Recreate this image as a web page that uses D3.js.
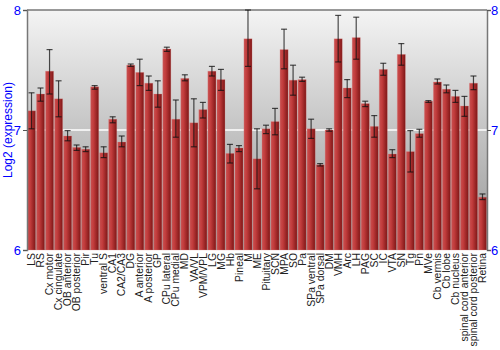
<!DOCTYPE html>
<html>
<head>
<meta charset="utf-8">
<script src="https://cdn.jsdelivr.net/npm/d3@7"></script>
<style>
  body { margin: 0; background: #fff; }
  svg { display: block; font-family: "Liberation Sans", Arial, sans-serif; }
</style>
</head>
<body>
<div id="chart"></div>
<script>
const regions = ["LS","RS","Cx motor","Cx cingulate","OB anterior","OB posterior","Pir","Tu","ventral S","CA1","CA2/CA3","DG","A anterior","A posterior","GP","CPu lateral","CPu medial","MD","VA/VL","VPM/VPL","LG","MG","Hb","Pineal","M","ME","Pituitary","SCN","MPA","SO","Pa","SPa ventral","SPa dorsal","DM","VMH","Arc","LH","PAG","SC","IC","VTA","SN","Tg","Pn","MVe","Cb vermis","Cb lobe","Cb nucleus","spinal cord anterior","spinal cord posterior","Retina"];
const expression = [7.16,7.30,7.49,7.26,6.95,6.855,6.84,7.36,6.81,7.09,6.90,7.54,7.48,7.39,7.30,7.675,7.09,7.43,7.06,7.17,7.49,7.42,6.805,6.85,7.76,6.76,7.01,7.07,7.67,7.415,7.42,7.01,6.71,7.00,7.76,7.35,7.77,7.22,7.03,7.505,6.80,7.63,6.82,6.97,7.24,7.40,7.34,7.28,7.20,7.39,6.44];
const errHigh = [7.31,7.35,7.67,7.41,6.995,6.875,6.86,7.37,6.86,7.11,6.95,7.55,7.59,7.45,7.41,7.69,7.25,7.46,7.26,7.23,7.53,7.505,6.88,6.87,8.0,7.01,7.04,7.18,7.84,7.54,7.44,7.09,6.72,7.01,7.955,7.42,7.94,7.24,7.12,7.556,6.836,7.72,6.995,7.006,7.245,7.425,7.375,7.33,7.28,7.45,6.467];
const errLow = [7.01,7.24,7.30,7.11,6.91,6.83,6.82,7.34,6.77,7.06,6.86,7.53,7.37,7.33,7.19,7.655,6.94,7.41,6.86,7.10,7.45,7.33,6.725,6.82,7.53,6.51,6.97,6.96,7.51,7.29,7.405,6.93,6.70,6.99,7.567,7.27,7.59,7.195,6.94,7.456,6.77,7.54,6.65,6.94,7.23,7.383,7.31,7.23,7.114,7.336,6.42];
const yTicks = [6, 7, 8];

const W = 500, H = 350;
const m = {t:10, l:27, b:100, r:13};
const w = W - m.l - m.r;
const h = H - m.t - m.b;

const svg = d3.select("#chart").append("svg")
  .attr("width", W).attr("height", H);

const defs = svg.append("defs");
const bg = defs.append("linearGradient").attr("id","bg")
  .attr("x1",0).attr("y1",0).attr("x2",0).attr("y2",1);
bg.append("stop").attr("offset","0%").attr("stop-color","#f4f4f4");
bg.append("stop").attr("offset","50%").attr("stop-color","#c4c4c4");
bg.append("stop").attr("offset","100%").attr("stop-color","#989898");

const barGrad = defs.append("linearGradient").attr("id","bar")
  .attr("x1",0).attr("y1",0).attr("x2",1).attr("y2",0);
barGrad.append("stop").attr("offset","0%").attr("stop-color","#c85050");
barGrad.append("stop").attr("offset","35%").attr("stop-color","#c23c3c");
barGrad.append("stop").attr("offset","100%").attr("stop-color","#7e1616");

const x = d3.scaleBand().domain(regions).range([0, w]).paddingInner(0.1).paddingOuter(0.05);
const y = d3.scaleLinear().domain([6, 8]).range([h, 0]);

const plot = svg.append("g").attr("transform", `translate(${m.l},${m.t})`);

plot.append("rect").attr("width", w).attr("height", h).attr("fill", "url(#bg)");

plot.selectAll(".grid").data([7]).join("line")
  .attr("class","grid")
  .attr("x1", 0).attr("x2", w)
  .attr("y1", d => y(d)).attr("y2", d => y(d))
  .attr("stroke", "#fff").attr("stroke-width", 1.5);

plot.append("line").attr("x1",0).attr("x2",w).attr("y1",0).attr("y2",0)
  .attr("stroke","#777").attr("stroke-width",1.5);

const data = regions.map((r, i) => ({r, v: expression[i], hi: errHigh[i], lo: errLow[i]}));

plot.selectAll(".bar").data(data).join("rect")
  .attr("class","bar")
  .attr("x", d => x(d.r))
  .attr("width", x.bandwidth())
  .attr("y", d => y(d.v))
  .attr("height", d => h - y(d.v))
  .attr("fill", "url(#bar)")
  .attr("stroke", "#e08a8a").attr("stroke-opacity", 0.35).attr("stroke-width", 0.8);

const eb = plot.selectAll(".err").data(data).join("g").attr("class","err")
  .attr("stroke", "#111").attr("stroke-opacity", 0.75).attr("stroke-width", 1.2);
eb.append("line")
  .attr("x1", d => x(d.r) + x.bandwidth()/2).attr("x2", d => x(d.r) + x.bandwidth()/2)
  .attr("y1", d => y(d.hi)).attr("y2", d => y(d.lo));
eb.selectAll(".cap").data(d => [d.hi, d.lo].map(v => ({r: d.r, v}))).join("line")
  .attr("x1", d => x(d.r) + x.bandwidth()/2 - 3).attr("x2", d => x(d.r) + x.bandwidth()/2 + 3)
  .attr("y1", d => y(d.v)).attr("y2", d => y(d.v));

const axisL = d3.axisLeft(y).tickValues(yTicks).tickFormat(d3.format("d")).tickSize(4);
const axisR = d3.axisRight(y).tickValues(yTicks).tickFormat(d3.format("d")).tickSize(4);

const gl = plot.append("g").call(axisL);
const gr = plot.append("g").attr("transform", `translate(${w},0)`).call(axisR);
[gl, gr].forEach(g => {
  g.select(".domain").attr("stroke", "#777").attr("stroke-width", 1.5);
  g.selectAll(".tick line").attr("stroke", "#555");
  g.selectAll(".tick text").attr("fill", "#0000ff").attr("font-size", 13)
    .attr("font-family", "Liberation Sans, Arial, sans-serif");
});
gl.selectAll(".tick text").attr("x", -6);
gr.selectAll(".tick text").attr("x", 4);

const axisB = d3.axisBottom(x).tickSize(0);
const gb = plot.append("g").attr("transform", `translate(0,${h})`).call(axisB);
gb.select(".domain").remove();
gb.selectAll(".tick text")
  .attr("transform", "rotate(-90)")
  .attr("text-anchor", "end")
  .attr("x", -3).attr("y", 0).attr("dy", "0.35em")
  .attr("fill", "#222").attr("font-size", 10.4)
  .attr("font-family", "Liberation Sans, Arial, sans-serif");

svg.append("text")
  .attr("transform", `translate(12,${m.t + h/2}) rotate(-90)`)
  .attr("text-anchor", "middle")
  .attr("fill", "#0000ff").attr("font-size", 12)
  .text("Log2 (expression)");
</script>
</body>
</html>
